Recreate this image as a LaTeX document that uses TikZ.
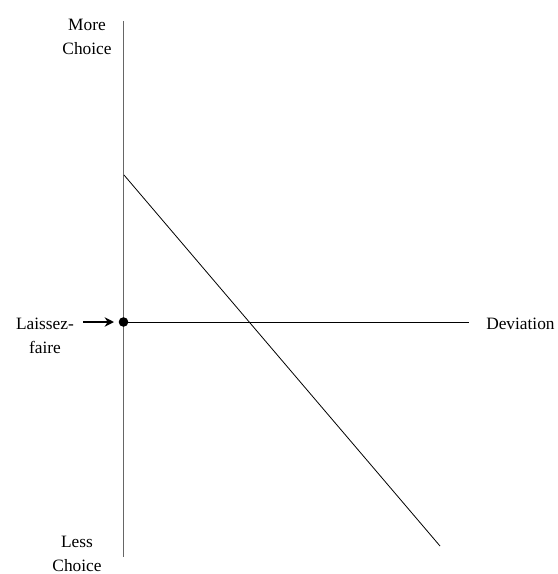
\documentclass[tikz,border=0pt]{standalone}
\usepackage{fontspec}
\setmainfont{Liberation Serif}
\usetikzlibrary{arrows.meta}
\begin{document}
\begin{tikzpicture}[x=0.75pt,y=-0.75pt,
  lbl/.style={align=center,font=\fontsize{13}{18}\selectfont,inner sep=0pt},
  axis/.style={draw=gray!80!black,line width=1pt}]
\useasboundingbox (0,0) rectangle (557,574);
\coordinate (top) at (123.5,21);
\coordinate (bot) at (123.5,557);
\coordinate (origin) at (123.5,322);
\coordinate (hend) at (469,322);
\coordinate (dstart) at (124,175);
\coordinate (dend) at (440,546);
\coordinate (astart) at (83,322);
\coordinate (aend) at (114,322);
\draw[axis] (top) -- (bot);
\draw[line width=0.75pt] (origin) -- (hend);
\draw[line width=0.6pt] (dstart) -- (dend);
\draw[line width=1.5pt,-{Stealth[length=7pt,width=7pt]}] (astart) -- (aend);
\fill (origin) circle (4.8);
\node[lbl] (more) at (87,37) {More\\Choice};
\node[lbl] (laissez) at (45,336) {Laissez-\\faire};
\node[lbl] (less) at (77,554) {Less\\Choice};
\node[lbl,anchor=west] (dev) at (486,324) {Deviation};
\end{tikzpicture}
\end{document}
